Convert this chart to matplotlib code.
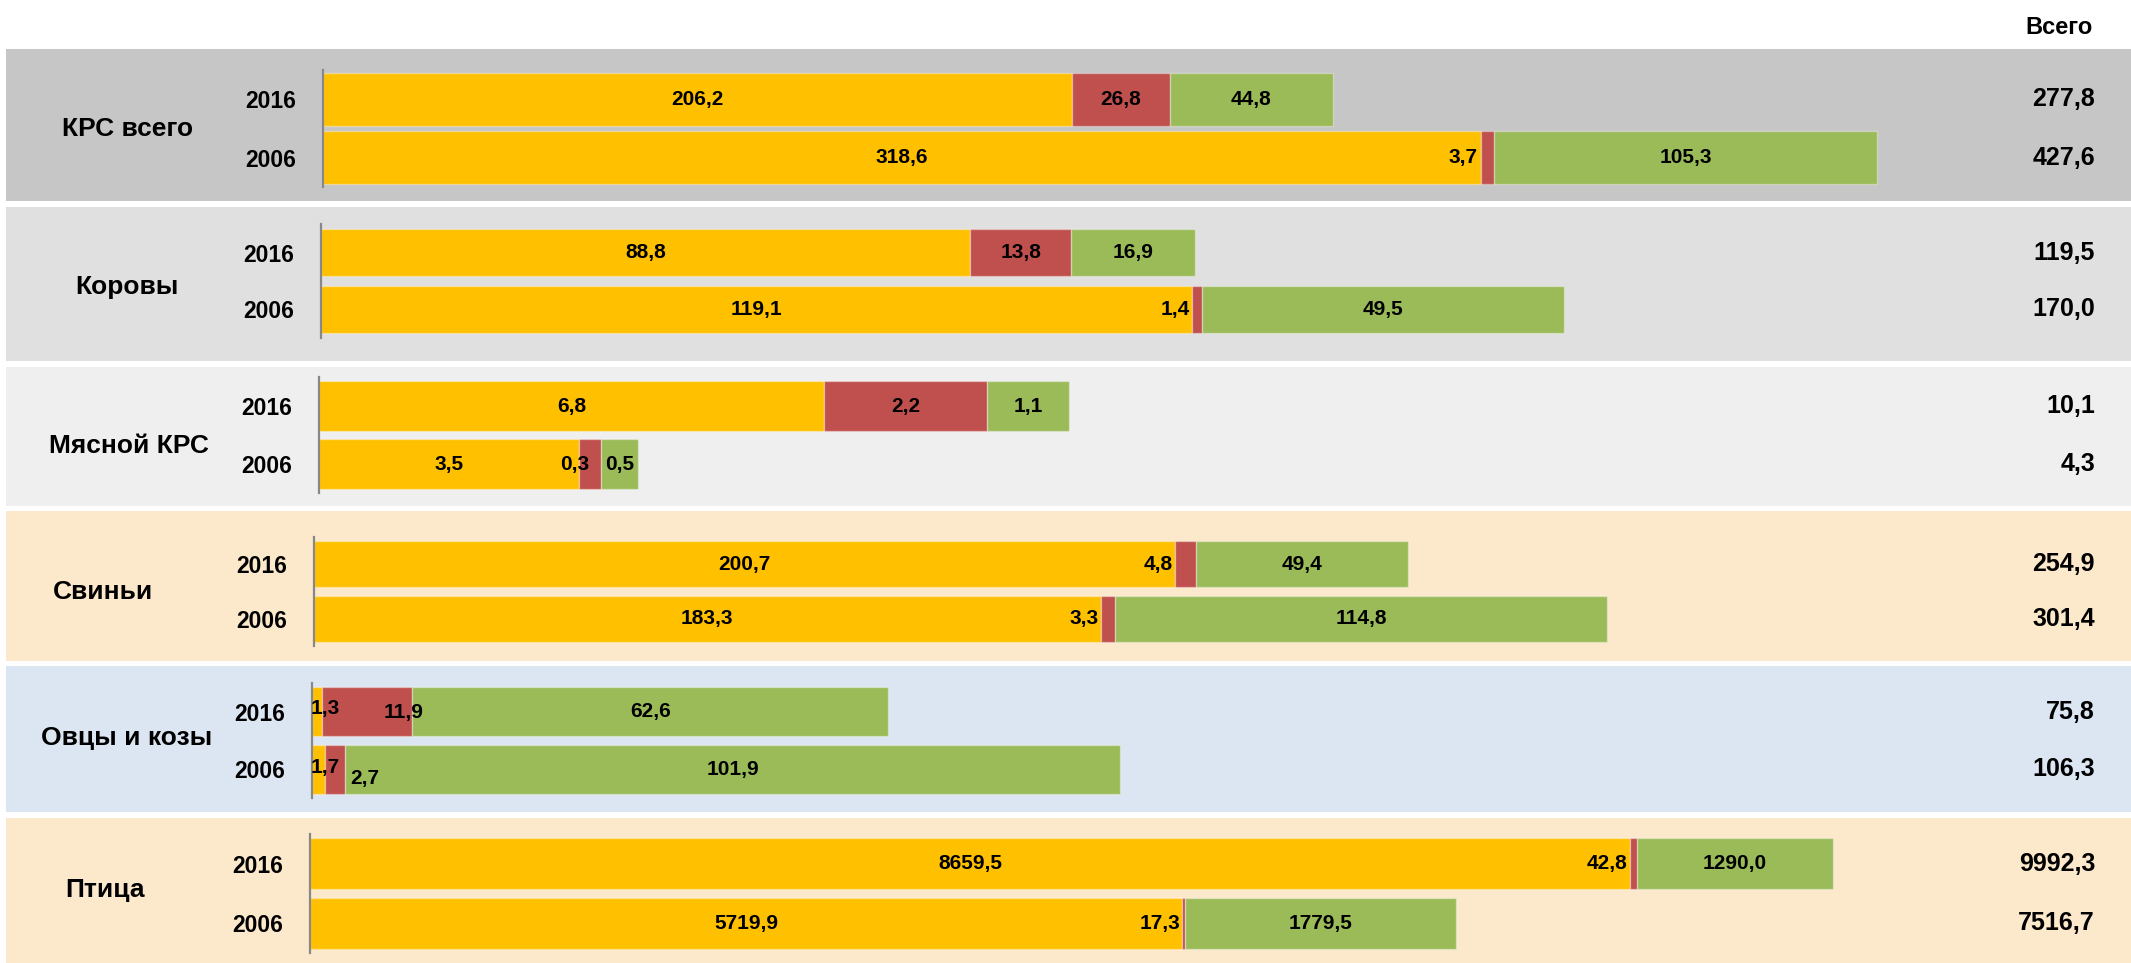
import matplotlib
matplotlib.use("Agg")
import matplotlib.pyplot as plt
from matplotlib.patches import Rectangle
from matplotlib import transforms

plt.rcParams['font.family'] = ['Liberation Sans', 'DejaVu Sans']
plt.rcParams['font.weight'] = 'bold'

# data
groups = ['КРС всего', 'Коровы', 'Мясной КРС', 'Свиньи', 'Овцы и козы', 'Птица']
years = ['2016', '2006']
yellow = [[206.2, 318.6], [88.8, 119.1], [6.8, 3.5], [200.7, 183.3], [1.3, 1.7], [8659.5, 5719.9]]
red = [[26.8, 3.7], [13.8, 1.4], [2.2, 0.3], [4.8, 3.3], [11.9, 2.7], [42.8, 17.3]]
green = [[44.8, 105.3], [16.9, 49.5], [1.1, 0.5], [49.4, 114.8], [62.6, 101.9], [1290.0, 1779.5]]
totals = [[277.8, 427.6], [119.5, 170.0], [10.1, 4.3], [254.9, 301.4], [75.8, 106.3], [9992.3, 7516.7]]
total_head = 'Всего'

# layout (pixels of the 2131x963 picture)
W, H = 2131, 963
panel_y = [(49, 201), (207, 361), (367, 506), (511, 661), (666, 812), (818, 963)]
axis_y = [(70, 187), (224, 338), (377, 493), (537, 646), (683, 798), (834, 953)]
axis_x0 = [323, 321, 319, 314, 312, 310]
xmax = [497.5, 247.6, 24.4, 423.4, 239.2, 11946]
bar_h = [0.9, 0.84, 0.85, 0.84, 0.85, 0.86]
panel_bg = ['#c6c6c6', '#e0e0e0', '#efefef', '#fce8cb', '#dce6f2', '#fce8cb']
group_x = [128, 127, 129, 103, 127, 105]
group_y = [129, 287, 446, 592, 738, 890]
seg_colors = ['#ffc000', '#c0504d', '#9bbb59']

# labels that are not centred in their segment: (group, year, segment) -> (anchor, dx px, dy px)
label_fix = {
    (0, 1, 1): ('right', -3, 0),
    (1, 1, 1): ('right', -2, 0),
    (2, 1, 1): ('right', 10, 0),
    (3, 0, 1): ('right', -3, 0),
    (3, 1, 1): ('right', -2, 0),
    (5, 0, 1): ('right', -3, 0),
    (5, 1, 1): ('right', -2, 0),
    (4, 0, 0): ('left', -1, -3),
    (4, 1, 0): ('left', -1, -2),
    (4, 0, 1): ('center', 36, 1),
    (4, 1, 1): ('center', 30, 9),
}

def fmt(v):
    return f"{v:.1f}".replace('.', ',')

fig = plt.figure(figsize=(W / 100, H / 100), dpi=100)
bg = fig.add_axes([0, 0, 1, 1])
bg.set_xlim(0, W)
bg.set_ylim(H, 0)
bg.axis('off')

for g in range(len(groups)):
    top, bot = panel_y[g]
    bg.add_patch(Rectangle((6, top), W - 6, bot - top, color=panel_bg[g], lw=0))
    bg.text(group_x[g], group_y[g], groups[g], ha='center', va='center', fontsize=19)

    a0, a1 = axis_y[g]
    x0 = axis_x0[g]
    ax = fig.add_axes([x0 / W, 1 - a1 / H, (W - x0) / W, (a1 - a0) / H])
    ax.patch.set_alpha(0)
    ax.set_xlim(0, xmax[g])
    ax.set_ylim(1.5, -0.5)
    for s in ['top', 'right', 'bottom']:
        ax.spines[s].set_visible(False)
    ax.spines['left'].set_color('#888888')
    ax.spines['left'].set_linewidth(1.6)
    ax.set_xticks([])
    ax.set_yticks(range(len(years)), labels=years, fontsize=16.5, fontweight='bold')
    ax.tick_params(axis='y', length=0, pad=19)

    segs = [yellow[g], red[g], green[g]]
    left = [0.0, 0.0]
    for k, vals in enumerate(segs):
        ax.barh(range(len(years)), vals, left=left, height=bar_h[g],
                color=seg_colors[k], edgecolor=(1, 1, 1, 0.35), linewidth=1)
        for i, v in enumerate(vals):
            anchor, dx, dy = label_fix.get((g, i, k), ('center', 0, 0))
            if anchor == 'center':
                xx = left[i] + v / 2
            else:
                xx = left[i]
            ax.annotate(fmt(v), (xx, i), xytext=(dx * 0.72, -dy * 0.72),
                        textcoords='offset points', ha=anchor, va='center',
                        fontsize=15, fontweight='bold')
        left = [left[i] + vals[i] for i in range(len(vals))]

    tr = transforms.blended_transform_factory(fig.transFigure, ax.transData)
    for i, t in enumerate(totals[g]):
        ax.text(2095 / W, i, fmt(t), transform=tr, ha='right', va='center',
                fontsize=18, fontweight='bold')

bg.text(2093, 27, total_head, ha='right', va='center', fontsize=17)

fig.savefig('out.png', dpi=100)
